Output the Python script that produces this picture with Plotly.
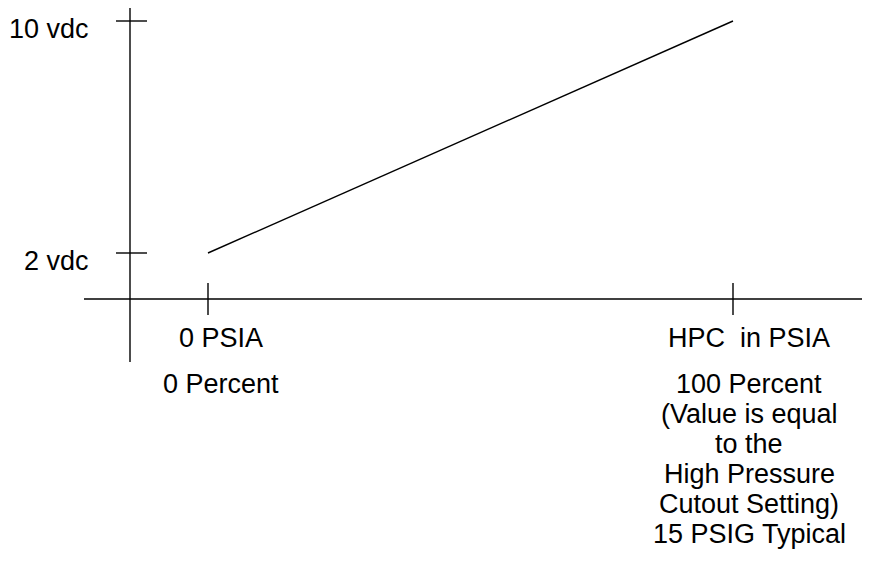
import plotly.graph_objects as go

# ---- data ----
percent = [0, 100]          # input range (percent of HPC)
vdc = [2, 10]               # output voltage
y_tick_vals = [2, 10]
y_tick_labels = ["2 vdc", "10 vdc"]
x_tick_vals = [0, 100]
x_tick_line1 = ["0 PSIA", "HPC  in PSIA"]
x_tick_line2 = ["0 Percent", "100 Percent"]
x_notes_right = ["(Value is equal", "to the", "High Pressure", "Cutout Setting)", "15 PSIG Typical"]

W, H = 870, 567
SX = 100 / 525.0   # data units per pixel (x)
SY = 8 / 232.0     # data units per pixel (y)
X_AT0 = -208 * SX          # data x at screen pixel 0
Y_AT0 = 2 + 253 * SY       # data y at screen pixel 0
OFF = 8                    # page body offset

X0 = X_AT0 + OFF * SX
X1 = X0 + W * SX
Y1 = Y_AT0 - OFF * SY
Y0 = Y1 - H * SY

def px_x(p):
    return X_AT0 + p * SX

def px_y(p):
    return Y_AT0 - p * SY

FONT = dict(family="Liberation Sans, Arial, sans-serif", size=27, color="black")
LW = 1.4

fig = go.Figure()
fig.add_trace(go.Scatter(x=percent, y=vdc, mode="lines",
                         line=dict(color="black", width=LW), hoverinfo="skip",
                         showlegend=False))

shapes = []
ax_x = px_x(130)
ax_y = px_y(299)
shapes.append(dict(type="line", x0=ax_x, x1=ax_x, y0=px_y(5), y1=px_y(362),
                   line=dict(color="black", width=LW)))
shapes.append(dict(type="line", x0=px_x(84), x1=px_x(868), y0=ax_y, y1=ax_y,
                   line=dict(color="black", width=LW)))
for v in y_tick_vals:
    shapes.append(dict(type="line", x0=px_x(116), x1=px_x(147), y0=v, y1=v,
                       line=dict(color="black", width=LW)))
for v in x_tick_vals:
    shapes.append(dict(type="line", x0=v, x1=v, y0=px_y(283), y1=px_y(315),
                       line=dict(color="black", width=LW)))

ann = []
for v, t in zip(y_tick_vals, y_tick_labels):
    ann.append(dict(x=px_x(91), y=v - 0.29, text=t, xanchor="right", yanchor="middle",
                    showarrow=False, font=FONT))

col_centers = [px_x(221), px_x(749)]
for cx, t1, t2 in zip(col_centers, x_tick_line1, x_tick_line2):
    ann.append(dict(x=cx, y=px_y(338), text=t1, xanchor="center", yanchor="middle",
                    showarrow=False, font=FONT))
    ann.append(dict(x=cx, y=px_y(384), text=t2, xanchor="center", yanchor="middle",
                    showarrow=False, font=FONT))

line_y = [414, 444, 474, 504, 534]
for yy, t in zip(line_y, x_notes_right):
    ann.append(dict(x=col_centers[1], y=px_y(yy), text=t, xanchor="center", yanchor="middle",
                    showarrow=False, font=FONT))

fig.update_layout(
    width=W, height=H,
    margin=dict(l=0, r=0, t=0, b=0),
    paper_bgcolor="white", plot_bgcolor="white",
    xaxis=dict(range=[X0, X1], visible=False, fixedrange=True),
    yaxis=dict(range=[Y0, Y1], visible=False, fixedrange=True),
    shapes=shapes, annotations=ann, showlegend=False,
)

fig.write_html("out.html")
